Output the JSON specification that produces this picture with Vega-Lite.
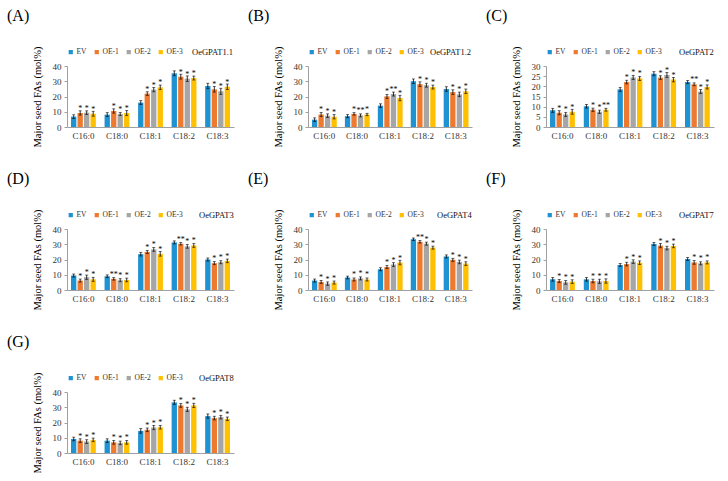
{
  "$schema": "https://vega.github.io/schema/vega-lite/v6.json",
  "padding": {"left": 7, "top": 8, "right": 5, "bottom": 0},
  "datasets": {
    "fa": [
      {"panel": "A", "fa": "C16:0", "line": "EV", "value": 6.8, "sd": 1.2, "sig": ""},
      {"panel": "A", "fa": "C16:0", "line": "OE-1", "value": 9.2, "sd": 1.4, "sig": "*"},
      {"panel": "A", "fa": "C16:0", "line": "OE-2", "value": 9.4, "sd": 1.2, "sig": "*"},
      {"panel": "A", "fa": "C16:0", "line": "OE-3", "value": 8.7, "sd": 1.6, "sig": "*"},
      {"panel": "A", "fa": "C18:0", "line": "EV", "value": 8.1, "sd": 1.3, "sig": ""},
      {"panel": "A", "fa": "C18:0", "line": "OE-1", "value": 10.5, "sd": 1.4, "sig": "*"},
      {"panel": "A", "fa": "C18:0", "line": "OE-2", "value": 8.5, "sd": 1.0, "sig": "*"},
      {"panel": "A", "fa": "C18:0", "line": "OE-3", "value": 9.2, "sd": 1.6, "sig": "*"},
      {"panel": "A", "fa": "C18:1", "line": "EV", "value": 16.0, "sd": 1.3, "sig": ""},
      {"panel": "A", "fa": "C18:1", "line": "OE-1", "value": 21.9, "sd": 1.2, "sig": "*"},
      {"panel": "A", "fa": "C18:1", "line": "OE-2", "value": 24.5, "sd": 1.4, "sig": "*"},
      {"panel": "A", "fa": "C18:1", "line": "OE-3", "value": 26.0, "sd": 1.5, "sig": "*"},
      {"panel": "A", "fa": "C18:2", "line": "EV", "value": 35.2, "sd": 1.6, "sig": ""},
      {"panel": "A", "fa": "C18:2", "line": "OE-1", "value": 33.0, "sd": 1.6, "sig": "*"},
      {"panel": "A", "fa": "C18:2", "line": "OE-2", "value": 31.7, "sd": 1.8, "sig": "*"},
      {"panel": "A", "fa": "C18:2", "line": "OE-3", "value": 32.1, "sd": 1.3, "sig": "*"},
      {"panel": "A", "fa": "C18:3", "line": "EV", "value": 26.9, "sd": 1.8, "sig": ""},
      {"panel": "A", "fa": "C18:3", "line": "OE-1", "value": 24.7, "sd": 1.8, "sig": "*"},
      {"panel": "A", "fa": "C18:3", "line": "OE-2", "value": 23.4, "sd": 2.0, "sig": "*"},
      {"panel": "A", "fa": "C18:3", "line": "OE-3", "value": 26.4, "sd": 1.8, "sig": "*"},

      {"panel": "B", "fa": "C16:0", "line": "EV", "value": 4.8, "sd": 1.2, "sig": ""},
      {"panel": "B", "fa": "C16:0", "line": "OE-1", "value": 8.2, "sd": 1.3, "sig": "*"},
      {"panel": "B", "fa": "C16:0", "line": "OE-2", "value": 7.4, "sd": 1.2, "sig": "*"},
      {"panel": "B", "fa": "C16:0", "line": "OE-3", "value": 6.7, "sd": 1.4, "sig": "*"},
      {"panel": "B", "fa": "C18:0", "line": "EV", "value": 7.1, "sd": 1.0, "sig": ""},
      {"panel": "B", "fa": "C18:0", "line": "OE-1", "value": 8.6, "sd": 0.8, "sig": "*"},
      {"panel": "B", "fa": "C18:0", "line": "OE-2", "value": 7.6, "sd": 1.0, "sig": "**"},
      {"panel": "B", "fa": "C18:0", "line": "OE-3", "value": 8.2, "sd": 0.8, "sig": "*"},
      {"panel": "B", "fa": "C18:1", "line": "EV", "value": 14.0, "sd": 1.2, "sig": ""},
      {"panel": "B", "fa": "C18:1", "line": "OE-1", "value": 20.1, "sd": 1.3, "sig": "*"},
      {"panel": "B", "fa": "C18:1", "line": "OE-2", "value": 21.6, "sd": 1.3, "sig": "**"},
      {"panel": "B", "fa": "C18:1", "line": "OE-3", "value": 19.0, "sd": 1.8, "sig": "*"},
      {"panel": "B", "fa": "C18:2", "line": "EV", "value": 30.0, "sd": 1.5, "sig": ""},
      {"panel": "B", "fa": "C18:2", "line": "OE-1", "value": 28.1, "sd": 1.5, "sig": "*"},
      {"panel": "B", "fa": "C18:2", "line": "OE-2", "value": 27.4, "sd": 1.3, "sig": "*"},
      {"panel": "B", "fa": "C18:2", "line": "OE-3", "value": 26.2, "sd": 1.3, "sig": "*"},
      {"panel": "B", "fa": "C18:3", "line": "EV", "value": 24.9, "sd": 1.5, "sig": ""},
      {"panel": "B", "fa": "C18:3", "line": "OE-1", "value": 22.9, "sd": 1.5, "sig": "*"},
      {"panel": "B", "fa": "C18:3", "line": "OE-2", "value": 21.4, "sd": 1.5, "sig": "*"},
      {"panel": "B", "fa": "C18:3", "line": "OE-3", "value": 23.4, "sd": 1.5, "sig": "*"},

      {"panel": "C", "fa": "C16:0", "line": "EV", "value": 8.2, "sd": 1.0, "sig": ""},
      {"panel": "C", "fa": "C16:0", "line": "OE-1", "value": 7.0, "sd": 1.0, "sig": "*"},
      {"panel": "C", "fa": "C16:0", "line": "OE-2", "value": 6.2, "sd": 1.0, "sig": "*"},
      {"panel": "C", "fa": "C16:0", "line": "OE-3", "value": 7.5, "sd": 1.2, "sig": "*"},
      {"panel": "C", "fa": "C18:0", "line": "EV", "value": 10.2, "sd": 0.9, "sig": ""},
      {"panel": "C", "fa": "C18:0", "line": "OE-1", "value": 8.5, "sd": 0.8, "sig": "*"},
      {"panel": "C", "fa": "C18:0", "line": "OE-2", "value": 7.5, "sd": 0.8, "sig": "*"},
      {"panel": "C", "fa": "C18:0", "line": "OE-3", "value": 8.5, "sd": 0.7, "sig": "**"},
      {"panel": "C", "fa": "C18:1", "line": "EV", "value": 18.5, "sd": 1.0, "sig": ""},
      {"panel": "C", "fa": "C18:1", "line": "OE-1", "value": 22.1, "sd": 0.9, "sig": "*"},
      {"panel": "C", "fa": "C18:1", "line": "OE-2", "value": 24.4, "sd": 1.0, "sig": "*"},
      {"panel": "C", "fa": "C18:1", "line": "OE-3", "value": 23.9, "sd": 1.0, "sig": "*"},
      {"panel": "C", "fa": "C18:2", "line": "EV", "value": 26.2, "sd": 1.0, "sig": ""},
      {"panel": "C", "fa": "C18:2", "line": "OE-1", "value": 24.3, "sd": 0.9, "sig": "*"},
      {"panel": "C", "fa": "C18:2", "line": "OE-2", "value": 25.6, "sd": 1.2, "sig": "*"},
      {"panel": "C", "fa": "C18:2", "line": "OE-3", "value": 23.3, "sd": 1.1, "sig": "*"},
      {"panel": "C", "fa": "C18:3", "line": "EV", "value": 22.1, "sd": 0.8, "sig": ""},
      {"panel": "C", "fa": "C18:3", "line": "OE-1", "value": 21.0, "sd": 0.7, "sig": "**"},
      {"panel": "C", "fa": "C18:3", "line": "OE-2", "value": 17.4, "sd": 1.0, "sig": "*"},
      {"panel": "C", "fa": "C18:3", "line": "OE-3", "value": 19.7, "sd": 1.0, "sig": "*"},

      {"panel": "D", "fa": "C16:0", "line": "EV", "value": 9.5, "sd": 1.0, "sig": ""},
      {"panel": "D", "fa": "C16:0", "line": "OE-1", "value": 6.2, "sd": 1.0, "sig": "*"},
      {"panel": "D", "fa": "C16:0", "line": "OE-2", "value": 8.4, "sd": 1.4, "sig": "*"},
      {"panel": "D", "fa": "C16:0", "line": "OE-3", "value": 7.0, "sd": 1.3, "sig": "*"},
      {"panel": "D", "fa": "C18:0", "line": "EV", "value": 9.0, "sd": 0.9, "sig": ""},
      {"panel": "D", "fa": "C18:0", "line": "OE-1", "value": 7.3, "sd": 0.8, "sig": "**"},
      {"panel": "D", "fa": "C18:0", "line": "OE-2", "value": 6.4, "sd": 1.0, "sig": "*"},
      {"panel": "D", "fa": "C18:0", "line": "OE-3", "value": 6.6, "sd": 1.2, "sig": "*"},
      {"panel": "D", "fa": "C18:1", "line": "EV", "value": 23.5, "sd": 1.2, "sig": ""},
      {"panel": "D", "fa": "C18:1", "line": "OE-1", "value": 25.0, "sd": 1.0, "sig": "*"},
      {"panel": "D", "fa": "C18:1", "line": "OE-2", "value": 26.6, "sd": 1.2, "sig": "*"},
      {"panel": "D", "fa": "C18:1", "line": "OE-3", "value": 23.7, "sd": 1.5, "sig": "*"},
      {"panel": "D", "fa": "C18:2", "line": "EV", "value": 31.2, "sd": 1.0, "sig": ""},
      {"panel": "D", "fa": "C18:2", "line": "OE-1", "value": 30.3, "sd": 0.8, "sig": "**"},
      {"panel": "D", "fa": "C18:2", "line": "OE-2", "value": 28.6, "sd": 1.2, "sig": "*"},
      {"panel": "D", "fa": "C18:2", "line": "OE-3", "value": 29.2, "sd": 1.2, "sig": "*"},
      {"panel": "D", "fa": "C18:3", "line": "EV", "value": 20.0, "sd": 1.0, "sig": ""},
      {"panel": "D", "fa": "C18:3", "line": "OE-1", "value": 17.6, "sd": 1.0, "sig": "*"},
      {"panel": "D", "fa": "C18:3", "line": "OE-2", "value": 18.2, "sd": 1.0, "sig": "*"},
      {"panel": "D", "fa": "C18:3", "line": "OE-3", "value": 19.1, "sd": 1.2, "sig": "*"},

      {"panel": "E", "fa": "C16:0", "line": "EV", "value": 6.2, "sd": 1.0, "sig": ""},
      {"panel": "E", "fa": "C16:0", "line": "OE-1", "value": 5.3, "sd": 1.0, "sig": "*"},
      {"panel": "E", "fa": "C16:0", "line": "OE-2", "value": 4.2, "sd": 1.1, "sig": "*"},
      {"panel": "E", "fa": "C16:0", "line": "OE-3", "value": 4.9, "sd": 1.0, "sig": "*"},
      {"panel": "E", "fa": "C18:0", "line": "EV", "value": 8.2, "sd": 0.9, "sig": ""},
      {"panel": "E", "fa": "C18:0", "line": "OE-1", "value": 6.9, "sd": 1.0, "sig": "*"},
      {"panel": "E", "fa": "C18:0", "line": "OE-2", "value": 7.6, "sd": 1.0, "sig": "*"},
      {"panel": "E", "fa": "C18:0", "line": "OE-3", "value": 6.9, "sd": 1.0, "sig": "*"},
      {"panel": "E", "fa": "C18:1", "line": "EV", "value": 13.6, "sd": 1.0, "sig": ""},
      {"panel": "E", "fa": "C18:1", "line": "OE-1", "value": 15.1, "sd": 1.0, "sig": "*"},
      {"panel": "E", "fa": "C18:1", "line": "OE-2", "value": 16.7, "sd": 1.2, "sig": "*"},
      {"panel": "E", "fa": "C18:1", "line": "OE-3", "value": 18.0, "sd": 1.5, "sig": "*"},
      {"panel": "E", "fa": "C18:2", "line": "EV", "value": 33.3, "sd": 0.8, "sig": ""},
      {"panel": "E", "fa": "C18:2", "line": "OE-1", "value": 31.6, "sd": 0.8, "sig": "**"},
      {"panel": "E", "fa": "C18:2", "line": "OE-2", "value": 30.4, "sd": 1.0, "sig": "*"},
      {"panel": "E", "fa": "C18:2", "line": "OE-3", "value": 27.8, "sd": 1.0, "sig": "*"},
      {"panel": "E", "fa": "C18:3", "line": "EV", "value": 22.0, "sd": 1.0, "sig": ""},
      {"panel": "E", "fa": "C18:3", "line": "OE-1", "value": 19.8, "sd": 1.0, "sig": "*"},
      {"panel": "E", "fa": "C18:3", "line": "OE-2", "value": 18.4, "sd": 1.2, "sig": "*"},
      {"panel": "E", "fa": "C18:3", "line": "OE-3", "value": 17.3, "sd": 1.2, "sig": "*"},

      {"panel": "F", "fa": "C16:0", "line": "EV", "value": 7.0, "sd": 1.2, "sig": ""},
      {"panel": "F", "fa": "C16:0", "line": "OE-1", "value": 5.9, "sd": 1.0, "sig": "*"},
      {"panel": "F", "fa": "C16:0", "line": "OE-2", "value": 5.0, "sd": 1.2, "sig": "*"},
      {"panel": "F", "fa": "C16:0", "line": "OE-3", "value": 5.5, "sd": 1.2, "sig": "*"},
      {"panel": "F", "fa": "C18:0", "line": "EV", "value": 7.0, "sd": 1.2, "sig": ""},
      {"panel": "F", "fa": "C18:0", "line": "OE-1", "value": 5.9, "sd": 1.2, "sig": "*"},
      {"panel": "F", "fa": "C18:0", "line": "OE-2", "value": 5.7, "sd": 1.4, "sig": "*"},
      {"panel": "F", "fa": "C18:0", "line": "OE-3", "value": 5.9, "sd": 1.4, "sig": "*"},
      {"panel": "F", "fa": "C18:1", "line": "EV", "value": 16.4, "sd": 1.0, "sig": ""},
      {"panel": "F", "fa": "C18:1", "line": "OE-1", "value": 17.0, "sd": 1.2, "sig": "*"},
      {"panel": "F", "fa": "C18:1", "line": "OE-2", "value": 18.6, "sd": 1.2, "sig": "*"},
      {"panel": "F", "fa": "C18:1", "line": "OE-3", "value": 17.9, "sd": 1.2, "sig": "*"},
      {"panel": "F", "fa": "C18:2", "line": "EV", "value": 30.2, "sd": 1.0, "sig": ""},
      {"panel": "F", "fa": "C18:2", "line": "OE-1", "value": 29.1, "sd": 1.4, "sig": "*"},
      {"panel": "F", "fa": "C18:2", "line": "OE-2", "value": 27.5, "sd": 1.2, "sig": "*"},
      {"panel": "F", "fa": "C18:2", "line": "OE-3", "value": 28.9, "sd": 1.2, "sig": "*"},
      {"panel": "F", "fa": "C18:3", "line": "EV", "value": 20.3, "sd": 1.0, "sig": ""},
      {"panel": "F", "fa": "C18:3", "line": "OE-1", "value": 18.1, "sd": 1.2, "sig": "*"},
      {"panel": "F", "fa": "C18:3", "line": "OE-2", "value": 17.5, "sd": 1.0, "sig": "*"},
      {"panel": "F", "fa": "C18:3", "line": "OE-3", "value": 18.1, "sd": 1.0, "sig": "*"},

      {"panel": "G", "fa": "C16:0", "line": "EV", "value": 9.2, "sd": 1.2, "sig": ""},
      {"panel": "G", "fa": "C16:0", "line": "OE-1", "value": 8.1, "sd": 1.2, "sig": "*"},
      {"panel": "G", "fa": "C16:0", "line": "OE-2", "value": 7.5, "sd": 1.2, "sig": "*"},
      {"panel": "G", "fa": "C16:0", "line": "OE-3", "value": 8.6, "sd": 1.2, "sig": "*"},
      {"panel": "G", "fa": "C18:0", "line": "EV", "value": 8.1, "sd": 1.2, "sig": ""},
      {"panel": "G", "fa": "C18:0", "line": "OE-1", "value": 7.0, "sd": 1.2, "sig": "*"},
      {"panel": "G", "fa": "C18:0", "line": "OE-2", "value": 6.6, "sd": 1.2, "sig": "*"},
      {"panel": "G", "fa": "C18:0", "line": "OE-3", "value": 7.0, "sd": 1.2, "sig": "*"},
      {"panel": "G", "fa": "C18:1", "line": "EV", "value": 14.5, "sd": 1.5, "sig": ""},
      {"panel": "G", "fa": "C18:1", "line": "OE-1", "value": 15.2, "sd": 1.2, "sig": "*"},
      {"panel": "G", "fa": "C18:1", "line": "OE-2", "value": 16.7, "sd": 1.4, "sig": "*"},
      {"panel": "G", "fa": "C18:1", "line": "OE-3", "value": 16.9, "sd": 1.2, "sig": "*"},
      {"panel": "G", "fa": "C18:2", "line": "EV", "value": 33.2, "sd": 1.4, "sig": ""},
      {"panel": "G", "fa": "C18:2", "line": "OE-1", "value": 31.2, "sd": 1.2, "sig": "*"},
      {"panel": "G", "fa": "C18:2", "line": "OE-2", "value": 28.6, "sd": 1.4, "sig": "*"},
      {"panel": "G", "fa": "C18:2", "line": "OE-3", "value": 31.2, "sd": 1.4, "sig": "*"},
      {"panel": "G", "fa": "C18:3", "line": "EV", "value": 24.2, "sd": 1.4, "sig": ""},
      {"panel": "G", "fa": "C18:3", "line": "OE-1", "value": 22.9, "sd": 1.2, "sig": "*"},
      {"panel": "G", "fa": "C18:3", "line": "OE-2", "value": 23.5, "sd": 1.2, "sig": "*"},
      {"panel": "G", "fa": "C18:3", "line": "OE-3", "value": 22.4, "sd": 1.2, "sig": "*"}
    ]
  },
  "columns": 3,
  "spacing": {"row": 102, "column": 74},
  "bounds": "flush",
  "resolve": {"scale": {"color": "independent", "y": "independent", "x": "independent"}, "legend": {"color": "independent"}},
  "concat": [
    {
      "width": 167, "height": 61,
      "title": {"text": "(A)"},
      "data": {"name": "fa"},
      "transform": [{"filter": "datum.panel == 'A'"}],
      "encoding": {
        "x": {"field": "fa", "type": "nominal", "title": null, "scale": {"paddingInner": 0.26, "paddingOuter": 0.12}},
        "xOffset": {"field": "line", "type": "nominal", "scale": {"paddingInner": 0.18}},
        "y": {"field": "value", "type": "quantitative", "scale": {"domain": [0, 40]}, "axis": {"values": [0, 10, 20, 30, 40], "title": "Major seed FAs (mol%)"}}
      },
      "layer": [
        {"mark": "bar", "encoding": {"color": {"field": "line", "type": "nominal", "legend": {"title": "OeGPAT1.1", "titlePadding": 9}}}},
        {"mark": {"type": "errorbar", "color": "black", "ticks": {"size": 3}, "thickness": 0.8}, "encoding": {"yError": {"field": "sd"}}},
        {"mark": {"type": "text", "baseline": "bottom", "fontSize": 8, "font": "Liberation Serif"}, "encoding": {"text": {"field": "sig"}}}
      ]
    },
    {
      "width": 164, "height": 61,
      "title": {"text": "(B)"},
      "data": {"name": "fa"},
      "transform": [{"filter": "datum.panel == 'B'"}],
      "encoding": {
        "x": {"field": "fa", "type": "nominal", "title": null, "scale": {"paddingInner": 0.26, "paddingOuter": 0.12}},
        "xOffset": {"field": "line", "type": "nominal", "scale": {"paddingInner": 0.18}},
        "y": {"field": "value", "type": "quantitative", "scale": {"domain": [0, 40]}, "axis": {"values": [0, 10, 20, 30, 40], "title": "Major seed FAs (mol%)"}}
      },
      "layer": [
        {"mark": "bar", "encoding": {"color": {"field": "line", "type": "nominal", "legend": {"title": "OeGPAT1.2", "titlePadding": 6}}}},
        {"mark": {"type": "errorbar", "color": "black", "ticks": {"size": 3}, "thickness": 0.8}, "encoding": {"yError": {"field": "sd"}}},
        {"mark": {"type": "text", "baseline": "bottom", "fontSize": 8, "font": "Liberation Serif"}, "encoding": {"text": {"field": "sig"}}}
      ]
    },
    {
      "width": 168, "height": 61,
      "title": {"text": "(C)"},
      "data": {"name": "fa"},
      "transform": [{"filter": "datum.panel == 'C'"}],
      "encoding": {
        "x": {"field": "fa", "type": "nominal", "title": null, "scale": {"paddingInner": 0.26, "paddingOuter": 0.12}},
        "xOffset": {"field": "line", "type": "nominal", "scale": {"paddingInner": 0.18}},
        "y": {"field": "value", "type": "quantitative", "scale": {"domain": [0, 30]}, "axis": {"values": [0, 5, 10, 15, 20, 25, 30], "title": "Major seed FAs (mol%)"}}
      },
      "layer": [
        {"mark": "bar", "encoding": {"color": {"field": "line", "type": "nominal", "legend": {"title": "OeGPAT2", "titlePadding": 17}}}},
        {"mark": {"type": "errorbar", "color": "black", "ticks": {"size": 3}, "thickness": 0.8}, "encoding": {"yError": {"field": "sd"}}},
        {"mark": {"type": "text", "baseline": "bottom", "fontSize": 8, "font": "Liberation Serif"}, "encoding": {"text": {"field": "sig"}}}
      ]
    },
    {
      "width": 167, "height": 61,
      "title": {"text": "(D)"},
      "data": {"name": "fa"},
      "transform": [{"filter": "datum.panel == 'D'"}],
      "encoding": {
        "x": {"field": "fa", "type": "nominal", "title": null, "scale": {"paddingInner": 0.26, "paddingOuter": 0.12}},
        "xOffset": {"field": "line", "type": "nominal", "scale": {"paddingInner": 0.18}},
        "y": {"field": "value", "type": "quantitative", "scale": {"domain": [0, 40]}, "axis": {"values": [0, 10, 20, 30, 40], "title": "Major seed FAs (mol%)"}}
      },
      "layer": [
        {"mark": "bar", "encoding": {"color": {"field": "line", "type": "nominal", "legend": {"title": "OeGPAT3", "titlePadding": 16}}}},
        {"mark": {"type": "errorbar", "color": "black", "ticks": {"size": 3}, "thickness": 0.8}, "encoding": {"yError": {"field": "sd"}}},
        {"mark": {"type": "text", "baseline": "bottom", "fontSize": 8, "font": "Liberation Serif"}, "encoding": {"text": {"field": "sig"}}}
      ]
    },
    {
      "width": 164, "height": 61,
      "title": {"text": "(E)"},
      "data": {"name": "fa"},
      "transform": [{"filter": "datum.panel == 'E'"}],
      "encoding": {
        "x": {"field": "fa", "type": "nominal", "title": null, "scale": {"paddingInner": 0.26, "paddingOuter": 0.12}},
        "xOffset": {"field": "line", "type": "nominal", "scale": {"paddingInner": 0.18}},
        "y": {"field": "value", "type": "quantitative", "scale": {"domain": [0, 40]}, "axis": {"values": [0, 10, 20, 30, 40], "title": "Major seed FAs (mol%)"}}
      },
      "layer": [
        {"mark": "bar", "encoding": {"color": {"field": "line", "type": "nominal", "legend": {"title": "OeGPAT4", "titlePadding": 13}}}},
        {"mark": {"type": "errorbar", "color": "black", "ticks": {"size": 3}, "thickness": 0.8}, "encoding": {"yError": {"field": "sd"}}},
        {"mark": {"type": "text", "baseline": "bottom", "fontSize": 8, "font": "Liberation Serif"}, "encoding": {"text": {"field": "sig"}}}
      ]
    },
    {
      "width": 168, "height": 61,
      "title": {"text": "(F)"},
      "data": {"name": "fa"},
      "transform": [{"filter": "datum.panel == 'F'"}],
      "encoding": {
        "x": {"field": "fa", "type": "nominal", "title": null, "scale": {"paddingInner": 0.26, "paddingOuter": 0.12}},
        "xOffset": {"field": "line", "type": "nominal", "scale": {"paddingInner": 0.18}},
        "y": {"field": "value", "type": "quantitative", "scale": {"domain": [0, 40]}, "axis": {"values": [0, 10, 20, 30, 40], "title": "Major seed FAs (mol%)"}}
      },
      "layer": [
        {"mark": "bar", "encoding": {"color": {"field": "line", "type": "nominal", "legend": {"title": "OeGPAT7", "titlePadding": 17}}}},
        {"mark": {"type": "errorbar", "color": "black", "ticks": {"size": 3}, "thickness": 0.8}, "encoding": {"yError": {"field": "sd"}}},
        {"mark": {"type": "text", "baseline": "bottom", "fontSize": 8, "font": "Liberation Serif"}, "encoding": {"text": {"field": "sig"}}}
      ]
    },
    {
      "width": 167, "height": 61,
      "title": {"text": "(G)"},
      "data": {"name": "fa"},
      "transform": [{"filter": "datum.panel == 'G'"}],
      "encoding": {
        "x": {"field": "fa", "type": "nominal", "title": null, "scale": {"paddingInner": 0.26, "paddingOuter": 0.12}},
        "xOffset": {"field": "line", "type": "nominal", "scale": {"paddingInner": 0.18}},
        "y": {"field": "value", "type": "quantitative", "scale": {"domain": [0, 40]}, "axis": {"values": [0, 10, 20, 30, 40], "title": "Major seed FAs (mol%)"}}
      },
      "layer": [
        {"mark": "bar", "encoding": {"color": {"field": "line", "type": "nominal", "legend": {"title": "OeGPAT8", "titlePadding": 16}}}},
        {"mark": {"type": "errorbar", "color": "black", "ticks": {"size": 3}, "thickness": 0.8}, "encoding": {"yError": {"field": "sd"}}},
        {"mark": {"type": "text", "baseline": "bottom", "fontSize": 8, "font": "Liberation Serif"}, "encoding": {"text": {"field": "sig"}}}
      ]
    }
  ],
  "config": {
    "view": {"stroke": null},
    "font": "Liberation Serif",
    "range": {"category": ["#1F92D1", "#EE7A30", "#A6A6A6", "#FFC000"]},
    "title": {"anchor": "start", "frame": "group", "dx": -60, "offset": 22, "fontSize": 16, "fontWeight": "normal", "font": "Liberation Serif", "color": "black"},
    "axis": {"grid": false, "labelFont": "Liberation Serif", "titleFont": "Liberation Serif", "labelFontSize": 9, "labelColor": "#333333", "domainColor": "#a0a0a0", "tickColor": "#a0a0a0"},
    "axisX": {"ticks": false, "labelAngle": 0, "labelPadding": 4},
    "axisY": {"tickSize": 3, "labelPadding": 3, "titleFontSize": 10.5, "titleFontWeight": "normal", "titleColor": "black", "titlePadding": 10},
    "legend": {"orient": "top", "direction": "horizontal", "symbolType": "square", "symbolSize": 18, "symbolStrokeWidth": 0, "labelFont": "Liberation Serif", "labelFontSize": 7.5, "labelColor": "#333333", "labelOffset": 2, "columnPadding": 6, "titleOrient": "right", "titleFont": "Liberation Serif", "titleFontSize": 8.5, "titleFontWeight": 400, "titleColor": "#111111", "offset": 9, "padding": 0}
  }
}
